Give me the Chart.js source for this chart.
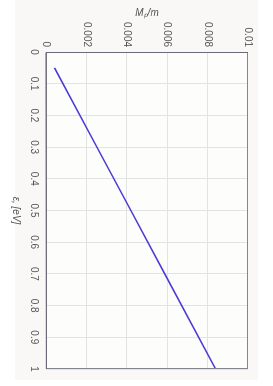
<!DOCTYPE html>
<html>
<head>
<meta charset="utf-8">
<script src="https://cdn.jsdelivr.net/npm/chart.js@4"></script>
<style>
  html, body { margin: 0; padding: 0; background: #fff; overflow: hidden; }
  #wrap {
    position: absolute; left: 0; top: 0;
    width: 386px; height: 273px;
    transform-origin: 0 0;
    transform: translate(273px, 0) rotate(90deg);
  }
</style>
</head>
<body>
<div id="wrap"><canvas id="c" width="386" height="273"></canvas></div>
<script>
// energy values and M_p/m
const eps = [0.05, 0.3, 0.5, 0.7, 1.0]
const mpm = [0.00042, 0.00252, 0.0042, 0.00588, 0.0084]
const epsTicks = [0, 0.1, 0.2, 0.3, 0.4, 0.5, 0.6, 0.7, 0.8, 0.9, 1]
const mTicks = [0, 0.002, 0.004, 0.006, 0.008, 0.01]

const font = { family: "Liberation Sans", size: 10 }

const background = {
    id: 'background',
    beforeDraw(chart) {
        const ctx = chart.ctx
        ctx.save()
        ctx.fillStyle = '#f9f8f7'
        ctx.fillRect(0, 15, 380, 243)
        ctx.fillStyle = '#fdfdfc'
        const a = chart.chartArea
        ctx.fillRect(a.left, a.top, a.right - a.left, a.bottom - a.top)
        ctx.restore()
    },
    afterDraw(chart) {
        const ctx = chart.ctx
        const a = chart.chartArea
        ctx.save()
        ctx.strokeStyle = '#85858f'
        ctx.lineWidth = 1
        ctx.strokeRect(a.left + 0.5, a.top + 0.5, a.right - a.left - 1, a.bottom - a.top - 1)
        ctx.strokeStyle = '#6a6a78'
        ctx.beginPath()
        ctx.moveTo(a.left + 0.5, a.top)
        ctx.lineTo(a.left + 0.5, a.bottom)
        ctx.lineTo(a.right, a.bottom - 0.5)
        ctx.stroke()
        ctx.restore()
    }
}

new Chart(document.getElementById('c'), {
    type: 'line',
    data: {
        datasets: [{
            data: eps.map((e, i) => ({ x: e, y: mpm[i] })),
            borderColor: '#4a3ad6',
            borderWidth: 1.5,
            pointRadius: 0,
            tension: 0,
        }],
    },
    options: {
        responsive: false,
        animation: false,
        events: [],
        layout: { padding: { left: 7, right: 17, top: 25, bottom: 10 } },
        plugins: { legend: { display: false }, tooltip: { enabled: false } },
        scales: {
            x: {
                type: 'linear',
                min: 0,
                max: 1,
                afterBuildTicks: s => { s.ticks = epsTicks.map(v => ({ value: v })) },
                afterFit: s => { s.height = 36 },
                grid: { color: '#e3e3e3', drawTicks: false },
                border: { display: false },
                ticks: { font, color: '#555', padding: 6, maxRotation: 0, callback: v => String(v) },
                title: { display: true, text: 'ε, [eV]', font: { ...font, style: 'italic' }, color: '#555', padding: { top: 0, bottom: 0 } },
            },
            y: {
                type: 'linear',
                min: 0,
                max: 0.01,
                afterBuildTicks: s => { s.ticks = mTicks.map(v => ({ value: v })) },
                afterFit: s => { s.width = 45 },
                grid: { color: '#e3e3e3', drawTicks: false },
                border: { display: false },
                ticks: { font, color: '#555', padding: 5, callback: v => String(v) },
                title: { display: true, text: 'Mₚ/m', font: { ...font, style: 'italic' }, color: '#555', padding: { top: 0, bottom: 0 } },
            },
        },
    },
    plugins: [background],
})
</script>
</body>
</html>
